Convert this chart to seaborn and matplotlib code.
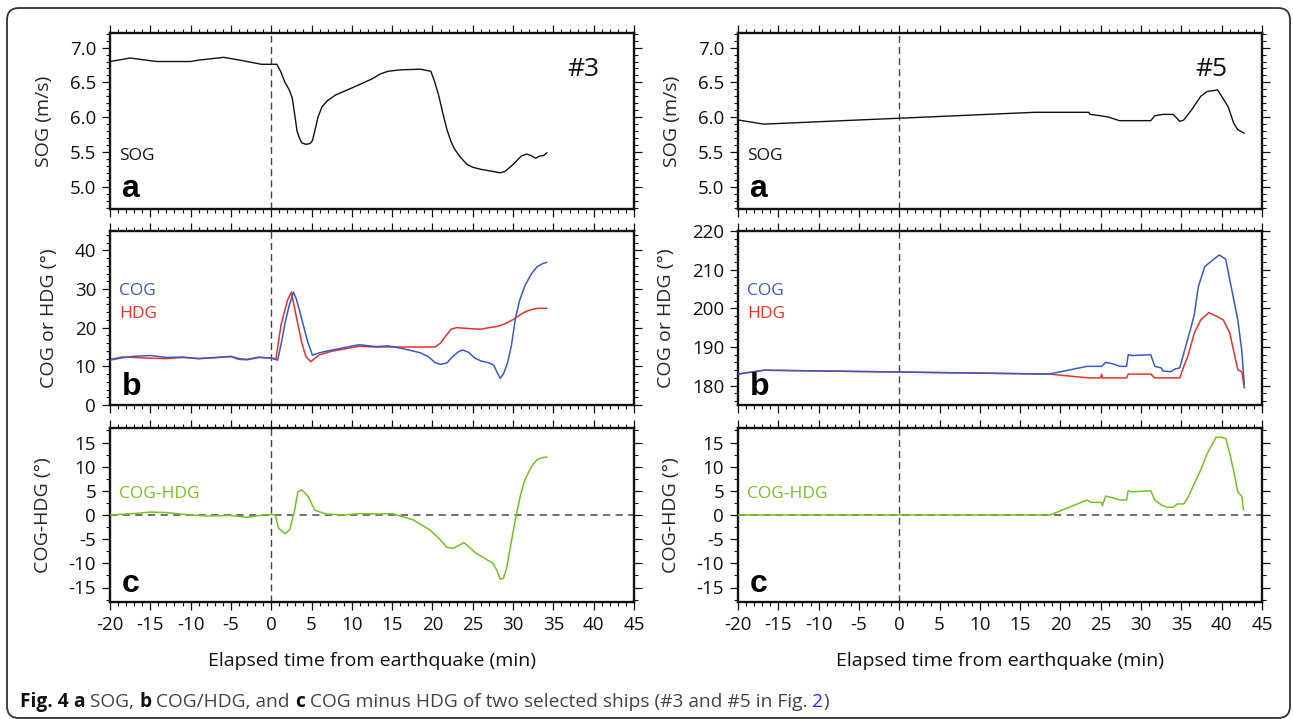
import numpy as np
import pandas as pd
import matplotlib
matplotlib.use("Agg")
import matplotlib.pyplot as plt
from matplotlib.patches import FancyBboxPatch
from matplotlib.transforms import IdentityTransform
from matplotlib.ticker import MultipleLocator, FormatStrFormatter
import seaborn as sns

# ---------------- data ----------------
# Ship #3
t3_sog = [-20, -17.5, -14.2, -12, -10, -9, -5.9, -3.9, -1.2, 0.0, 0.7, 1.2, 1.7, 2.2, 2.6,
          2.9, 3.2, 3.5, 3.8, 4.3, 4.8, 5.1, 5.4, 5.8, 6.3, 7.0, 8.0, 10.0, 12.5, 13.5,
          14.5, 16.0, 18.5, 19.8, 20.3, 20.8, 21.3, 21.8, 22.3, 22.8, 23.5, 24.3, 25.0,
          26.0, 27.5, 28.4, 29.0, 30.0, 31.0, 31.7, 32.2, 32.8, 33.3, 33.8, 34.2]
sog3 = [6.80, 6.85, 6.80, 6.80, 6.80, 6.82, 6.86, 6.82, 6.76, 6.76, 6.76, 6.65, 6.50, 6.40,
        6.28, 6.05, 5.80, 5.70, 5.63, 5.61, 5.62, 5.66, 5.80, 6.00, 6.15, 6.24, 6.32, 6.42,
        6.55, 6.62, 6.66, 6.68, 6.69, 6.66, 6.50, 6.30, 6.05, 5.82, 5.65, 5.53, 5.42,
        5.32, 5.28, 5.25, 5.22, 5.20, 5.22, 5.32, 5.44, 5.47, 5.45, 5.41, 5.44, 5.45, 5.49]

t3_cog = [-20, -18.5, -17, -15, -13, -11, -9, -7, -5, -4, -3, -1.5, 0, 0.8, 1.3, 1.7, 2.2,
          2.75, 3.1, 3.5, 4.0, 4.5, 5.1, 6.0, 6.8, 8.5, 9.9, 10.9, 13, 14.5, 16.5, 18.5,
          19.5, 20.3, 21.0, 21.8, 22.5, 23.3, 23.8, 24.5, 25.2, 26.0, 27.0, 27.6, 28.0,
          28.4, 28.8, 29.3, 29.8, 30.3, 30.8, 31.5, 32.3, 33.0, 33.7, 34.2]
cog3 = [11.6, 12.2, 12.6, 12.8, 12.3, 12.4, 12.0, 12.3, 12.5, 11.8, 11.7, 12.3, 12.1, 11.6,
        16.5, 21.1, 25.5, 29.2, 27.5, 24.5, 20.5, 16.5, 12.9, 13.5, 13.9, 14.6, 15.2, 15.6,
        15.1, 15.3, 14.5, 13.5, 12.5, 11.0, 10.5, 10.9, 12.5, 13.9, 14.2, 13.6, 12.2,
        11.4, 10.9, 10.3, 8.5, 6.9, 8.0, 10.8, 15.5, 22.5, 27.0, 31.0, 34.0, 35.8, 36.6,
        36.9]

t3_hdg = [-20, -18.5, -17, -15, -13, -11, -9, -7, -5, -4, -3, -1.5, 0, 0.6, 1.2, 2.0, 2.5,
          3.2, 3.8, 4.3, 4.9, 5.9, 7.5, 10.9, 13, 15, 17.5, 20.3, 21.0, 21.7, 22.3, 23.0,
          25.0, 26.0, 27.0, 28.0, 29.0, 30.1, 31.0, 31.6, 32.5, 33.1, 34.2]
hdg3 = [11.8, 12.4, 12.3, 12.1, 12.0, 12.3, 12.0, 12.2, 12.6, 12.0, 11.8, 12.4, 12.1, 12.0,
        20.6, 27.0, 29.2, 21.9, 16.0, 12.5, 11.2, 12.9, 13.9, 15.2, 15.0, 15.0, 15.0, 15.0,
        16.0, 18.0, 19.6, 20.0, 19.7, 19.6, 20.0, 20.3, 21.0, 22.2, 23.5, 24.2, 24.8,
        25.0, 25.0]

t3_diff = [-20, -17, -15, -13, -10, -8, -5, -3, -1, 0, 0.5, 0.9, 1.7, 2.3, 2.9, 3.3, 3.8,
           4.6, 5.4, 6.8, 9, 11, 13, 15, 17.6, 19.7, 21.0, 21.8, 22.6, 23.9, 25.4, 26.5,
           27.5, 28.0, 28.4, 28.8, 29.2, 29.6, 30.0, 30.4, 30.9, 31.4, 31.9, 32.4, 32.9,
           33.4, 34.2]
diff3 = [0.0, 0.3, 0.6, 0.5, 0.0, -0.2, -0.1, -0.5, 0.0, 0.1, 0.0, -2.7, -3.9, -3.0, 1.0,
         4.8, 5.2, 3.8, 1.0, 0.2, 0.0, 0.3, 0.2, 0.3, -1.0, -3.1, -5.2, -6.7, -6.9, -5.7,
         -7.9, -9.0, -10.0, -11.5, -13.3, -13.1, -11.0, -7.2, -3.5, 0.0, 4.0, 6.9, 8.8,
         10.3, 11.3, 11.8, 12.0]

# Ship #5
t5_sog = [-20, -16.8, 16.8, 23.5, 23.7, 25.0, 26.0, 27.3, 31.2, 31.7, 32.7, 34.0, 34.8,
          35.3, 36.3, 37.4, 38.2, 39.5, 40.0, 40.8, 41.5, 42.0, 42.8]
sog5 = [5.96, 5.90, 6.07, 6.07, 6.04, 6.02, 6.00, 5.95, 5.95, 6.02, 6.04, 6.04, 5.94,
        5.96, 6.11, 6.30, 6.37, 6.39, 6.30, 6.15, 5.91, 5.82, 5.77]

t5_cog = [-20, -16.75, 18.6, 23.3, 25.1, 25.6, 26.4, 27.4, 28.2, 28.4, 28.9, 31.2, 31.7,
          32.5, 32.7, 33.7, 34.2, 34.8, 35.3, 36.0, 36.6, 37.1, 37.9, 38.9, 39.7, 40.5,
          41.0, 41.5, 42.0, 42.5, 42.8]
cog5 = [183.0, 184.0, 183.0, 185.0, 185.0, 186.0, 185.7, 185.0, 185.0, 188.0, 187.8, 188.0,
        185.0, 184.6, 183.8, 183.6, 184.3, 184.6, 188.4, 193.6, 198.3, 205.6, 210.8, 212.5,
        213.8, 212.7, 207.4, 202.2, 197.0, 188.9, 180.3]

t5_hdg = [-20, -16.75, 18.6, 23.5, 25.0, 25.1, 25.2, 28.2, 28.4, 31.2, 31.7, 34.8, 35.3,
          35.8, 36.6, 37.4, 38.4, 39.5, 40.2, 41.0, 42.0, 42.5, 42.8]
hdg5 = [183.0, 184.0, 183.0, 182.0, 182.0, 183.0, 182.0, 182.0, 183.0, 183.0, 182.0, 182.0,
        185.0, 187.6, 193.6, 197.0, 198.9, 197.8, 197.0, 193.6, 184.1, 183.6, 179.4]

t5_diff = [-20, 18.7, 23.3, 23.8, 25.1, 25.2, 25.6, 26.4, 27.4, 28.2, 28.4, 28.9, 31.2,
           31.7, 32.5, 33.2, 34.0, 34.5, 35.3, 35.8, 36.6, 37.4, 38.2, 39.3, 40.0, 40.5,
           41.0, 41.5, 42.0, 42.5, 42.7]
diff5 = [0, 0, 3.1, 2.6, 2.6, 1.9, 3.9, 3.6, 3.1, 3.1, 5.0, 4.8, 5.0, 3.1, 2.1, 1.6, 1.6,
         2.3, 2.3, 3.6, 6.5, 9.3, 12.7, 16.1, 16.1, 15.8, 12.7, 9.0, 4.8, 3.8, 1.0]

ship_tags = ["#3", "#5"]
panel_letters = ["a", "b", "c"]
ylabels = ["SOG (m/s)", "COG or HDG (\u00b0)", "COG-HDG (\u00b0)"]
xlabel = "Elapsed time from earthquake (min)"

# ---------------- style ----------------
sns.set_theme(style="ticks")
plt.rcParams['font.family'] = ['Open Sans', 'DejaVu Sans']
plt.rcParams['axes.unicode_minus'] = False

C_BLACK = "#111111"
C_COG = "#3a5bc2"
C_HDG = "#e8322b"
C_DIFF = "#74c41e"

W, H = 1293, 719
fig = plt.figure(figsize=(W / 100, H / 100), dpi=100)
fig.patch.set_facecolor("white")

col_x = [110, 738]
col_w = 524
rows = [(33, 209), (231, 405), (428, 602)]  # top, bottom in px

def make_ax(cx, r):
    top, bot = rows[r]
    return fig.add_axes([cx / W, 1 - bot / H, col_w / W, (bot - top) / H])

def style_ax(ax, ylim, ymaj, ymin, fmt, show_x):
    ax.set_xlim(-20, 45)
    ax.set_ylim(*ylim)
    ax.xaxis.set_major_locator(MultipleLocator(5))
    ax.xaxis.set_minor_locator(MultipleLocator(1))
    ax.yaxis.set_major_locator(MultipleLocator(ymaj))
    ax.yaxis.set_minor_locator(MultipleLocator(ymin))
    ax.yaxis.set_major_formatter(FormatStrFormatter(fmt))
    ax.tick_params(which="both", direction="out", top=True, right=True,
                   bottom=True, left=True, color="#111111")
    ax.tick_params(which="major", length=6, width=0.9, labelsize=13.5, pad=4,
                   labelcolor="#111111")
    ax.tick_params(which="minor", length=3, width=0.8)
    ax.tick_params(axis="x", labelbottom=show_x)
    for s in ax.spines.values():
        s.set_linewidth(1.7)
        s.set_color("#111111")
    ax.axvline(0, color="#444444", lw=1.0, dashes=(5, 3), zorder=1)
    ax.set_xlabel("")
    ax.set_ylabel("")

def line(ax, t, v, color, lw=1.1, z=2):
    df = pd.DataFrame({"t": t, "v": v})
    sns.lineplot(data=df, x="t", y="v", ax=ax, estimator=None, sort=False,
                 color=color, lw=lw, zorder=z)

ships = [
    dict(sog=(t3_sog, sog3), cog=(t3_cog, cog3), hdg=(t3_hdg, hdg3), diff=(t3_diff, diff3),
         blim=(0, 45)),
    dict(sog=(t5_sog, sog5), cog=(t5_cog, cog5), hdg=(t5_hdg, hdg5), diff=(t5_diff, diff5),
         blim=(175, 220)),
]

letter_font = dict(family=["Liberation Sans", "DejaVu Sans"], fontweight="bold",
                   fontsize=23, color="black")

for ci, ship in enumerate(ships):
    cx = col_x[ci]
    # panel a
    axa = make_ax(cx, 0)
    line(axa, *ship["sog"], C_BLACK, lw=1.0)
    style_ax(axa, (4.68, 7.21), 0.5, 0.1, "%.1f", False)
    axa.text(0.018, 0.278, "SOG", transform=axa.transAxes, fontsize=12.5, color=C_BLACK)
    axa.text(0.872, 0.756, ship_tags[ci], transform=axa.transAxes, fontsize=19,
             color=C_BLACK)
    axa.text(0.022, 0.07, panel_letters[0], transform=axa.transAxes, **letter_font)
    axa.set_ylabel(ylabels[0], fontsize=14, labelpad=12)

    # panel b
    axb = make_ax(cx, 1)
    line(axb, *ship["hdg"], C_HDG, lw=1.1, z=2)
    line(axb, *ship["cog"], C_COG, lw=1.1, z=3)
    style_ax(axb, ship["blim"], 10, 2, "%d", False)
    axb.text(0.017, 0.632, "COG", transform=axb.transAxes, fontsize=12.5, color=C_COG)
    axb.text(0.017, 0.498, "HDG", transform=axb.transAxes, fontsize=12.5, color=C_HDG)
    axb.text(0.022, 0.057, panel_letters[1], transform=axb.transAxes, **letter_font)
    axb.set_ylabel(ylabels[1], fontsize=14, labelpad=12)

    # panel c
    axc = make_ax(cx, 2)
    axc.axhline(0, color="#666666", lw=1.3, dashes=(4, 3), zorder=1)
    line(axc, *ship["diff"], C_DIFF, lw=1.1, z=3)
    style_ax(axc, (-18, 18), 5, 2.5, "%d", True)
    axc.text(0.017, 0.60, "COG-HDG", transform=axc.transAxes, fontsize=12.5, color=C_DIFF)
    axc.text(0.022, 0.059, panel_letters[2], transform=axc.transAxes, **letter_font)
    axc.set_ylabel(ylabels[2], fontsize=14, labelpad=12)
    axc.set_xlabel(xlabel, fontsize=14, color="#111111")
    axc.xaxis.set_label_coords(0.5, -0.285)

# ---------------- outer rounded frame ----------------
frame = FancyBboxPatch((7, 1), 1283, 710, boxstyle="round,pad=0,rounding_size=12",
                       transform=IdentityTransform(), fill=False, edgecolor="#333333",
                       lw=1.3, clip_on=False)
fig.patches.append(frame)

# ---------------- caption (mixed styles) ----------------
cap_parts = [("Fig. 4 ", "bold", "#111111"), ("a", "bold", "#111111"),
             (" SOG, ", "normal", "#444444"), ("b", "bold", "#111111"),
             (" COG/HDG, and ", "normal", "#444444"), ("c", "bold", "#111111"),
             (" COG minus HDG of two selected ships (#3 and #5 in Fig. ", "normal", "#444444"),
             ("2", "normal", "#2b2bff"), (")", "normal", "#444444")]
renderer = fig.canvas.get_renderer()
x_px = 20
y_px = H - 707
for txt, wt, col in cap_parts:
    t = fig.text(x_px / W, y_px / H, txt, fontsize=13.8, fontweight=wt, color=col,
                 va="baseline", ha="left")
    bb = t.get_window_extent(renderer=renderer)
    x_px += bb.width

fig.savefig("out.png", dpi=100)
